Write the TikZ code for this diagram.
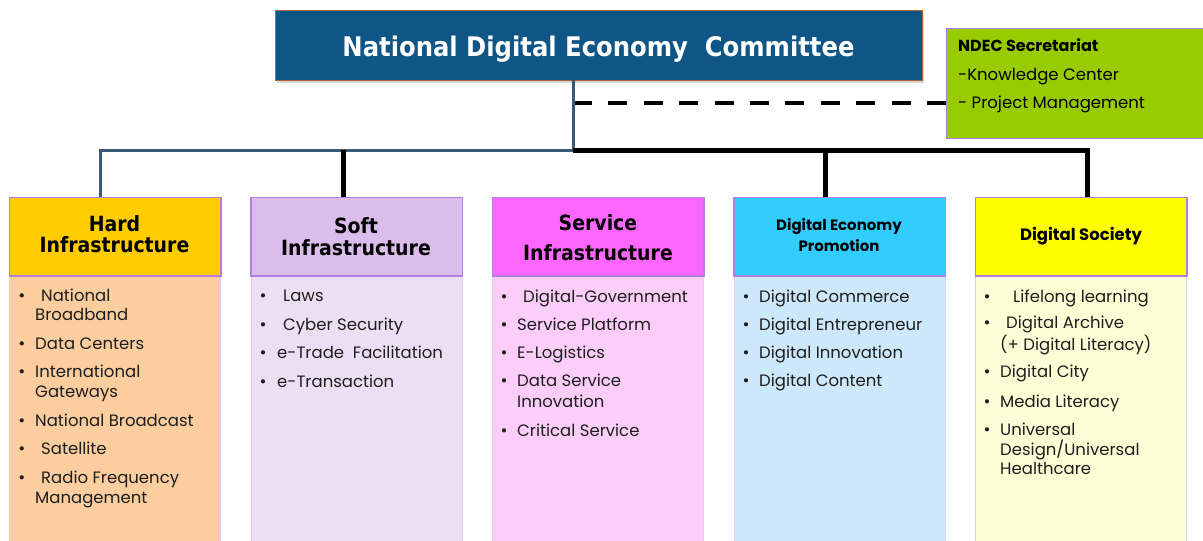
\documentclass[tikz,border=0pt]{standalone}
\usepackage{fontspec}
\setmainfont{Poppins}
\newfontfamily\tahoma{DejaVu Sans Condensed}
\usetikzlibrary{shadows}
\definecolor{mainfill}{HTML}{0F5585}
\definecolor{mainedge}{HTML}{B0643A}
\definecolor{slate}{HTML}{3B5876}
\definecolor{secfill}{HTML}{99CC00}
\definecolor{hdredge}{HTML}{B07FE0}
\definecolor{bodyedge}{HTML}{E2CDEE}
\definecolor{hardh}{HTML}{FFCC00}
\definecolor{hardb}{HTML}{FBCD9F}
\definecolor{softh}{HTML}{DBBDEB}
\definecolor{softb}{HTML}{ECDFF3}
\definecolor{servh}{HTML}{FF66FF}
\definecolor{servb}{HTML}{FCCDF9}
\definecolor{deph}{HTML}{33CCFF}
\definecolor{depb}{HTML}{CCE8FA}
\definecolor{soch}{HTML}{FFFF00}
\definecolor{socb}{HTML}{FFFDD5}
\definecolor{txt}{HTML}{1E1E1E}
\newcommand\bitem[5]{%
  \node[bul] (#1b) at (#2,#4) {•};
  \node[itm] (#1) at (#3,#4) {#5};}
\begin{document}
\begin{tikzpicture}[x=1pt,y=-1pt,
  hdrbox/.style={draw=hdredge, line width=1pt, minimum width=211pt, minimum height=78pt, inner sep=0pt, anchor=north west},
  bodybox/.style={draw=bodyedge, line width=1pt, minimum width=211pt, minimum height=270pt, inner sep=0pt, anchor=north},
  hdrtxt/.style={align=center, inner sep=0pt, text=black, font=\tahoma\bfseries\fontsize{21}{21}\selectfont},
  hdrtxt2/.style={align=center, inner sep=0pt, text=black, font=\bfseries\fontsize{15}{21}\selectfont},
  itm/.style={anchor=base west, inner sep=0pt, text=txt, font=\fontsize{16.5}{20}\selectfont},
  bul/.style={anchor=base, inner sep=0pt, text=txt, font=\fontsize{17}{20}\selectfont},
  sectxt/.style={anchor=base west, inner sep=0pt, text=black, font=\fontsize{16.5}{20}\selectfont},
  slateline/.style={draw=slate, line width=3pt},
  blackline/.style={draw=black, line width=5pt},
  dashline/.style={draw=black, line width=4pt, dash pattern=on 19pt off 16.4pt}
]
\useasboundingbox (0,0) rectangle (1203,541);

% top committee
\node[fill=mainfill, draw=mainedge, line width=0.8pt, minimum width=647pt, minimum height=70pt,
  text height=28.5pt, text depth=6.5pt,
  drop shadow={shadow xshift=2pt, shadow yshift=-3pt, opacity=0.35},
  text=white, font=\tahoma\bfseries\fontsize{27}{30}\selectfont] (ndc) at (598.5,45) {National Digital Economy\ \ Committee};

% secretariat
\node[fill=secfill, draw=hdredge, line width=1pt, minimum width=270pt, minimum height=110pt, anchor=north west, inner sep=0pt] (sec) at (945.5,28) {};
\node[sectxt, font=\bfseries\fontsize{16}{20}\selectfont] (sec1) at (958,51) {NDEC Secretariat};
\node[sectxt] (sec2) at (958,80) {-Knowledge Center};
\node[sectxt] (sec3) at (958,108) {- Project Management};

% columns: headers
\node[hdrbox, fill=hardh] (hardH) at (9,197) {};
\node[hdrbox, fill=softh] (softH) at (250.5,197) {};
\node[hdrbox, fill=servh] (servH) at (492,197) {};
\node[hdrbox, fill=deph]  (depH)  at (733.5,197) {};
\node[hdrbox, fill=soch]  (socH)  at (975,197) {};
% bodies
\node[bodybox, fill=hardb] (hardB) at (hardH.south) {};
\node[bodybox, fill=softb] (softB) at (softH.south) {};
\node[bodybox, fill=servb] (servB) at (servH.south) {};
\node[bodybox, fill=depb]  (depB)  at (depH.south) {};
\node[bodybox, fill=socb]  (socB)  at (socH.south) {};
% redraw header borders on top
\draw[draw=hdredge, line width=1pt] (hardH.north west) rectangle (hardH.south east);
\draw[draw=hdredge, line width=1pt] (softH.north west) rectangle (softH.south east);
\draw[draw=hdredge, line width=1pt] (servH.north west) rectangle (servH.south east);
\draw[draw=hdredge, line width=1pt] (depH.north west) rectangle (depH.south east);
\draw[draw=hdredge, line width=1pt] (socH.north west) rectangle (socH.south east);

% header texts
\node[hdrtxt] (hardT) at (114.5,234) {Hard\\Infrastructure};
\node[hdrtxt, font=\tahoma\bfseries\fontsize{21}{22}\selectfont] (softT) at (356,237) {Soft\\Infrastructure};
\node[hdrtxt, font=\tahoma\bfseries\fontsize{21}{30}\selectfont] (servT) at (598,238) {Service\\Infrastructure};
\node[hdrtxt2] (depT) at (839,235) {Digital Economy\\Promotion};
\node[hdrtxt2, font=\bfseries\fontsize{16.5}{21}\selectfont] (socT) at (1081,236) {Digital Society};

% connectors
\coordinate (jn) at (573,150);
\coordinate (hj) at (100,150);
\coordinate (softj) at (343,150);
\coordinate (depj) at (825,150);
\coordinate (socj) at (1087,150);
\coordinate (dj) at (573,103);
\draw[dashline] (dj) -- (dj -| sec.west);
\draw[slateline] (ndc.south -| jn) -- (jn) -- (hj) -- (hj |- hardH.north);
\draw[blackline] (jn) -- (socj) -- (socj |- socH.north);
\draw[blackline] (softj) -- (softj |- softH.north);
\draw[blackline] (depj) -- (depj |- depH.north);

% hard items
\bitem{h1}{22}{41}{301}{National}
\node[itm] (h1c) at (35,320) {Broadband};
\bitem{h2}{22}{35}{349}{Data Centers}
\bitem{h3}{22}{35}{377}{International}
\node[itm] (h3c) at (35,397) {Gateways};
\bitem{h4}{22}{35}{426}{National Broadcast}
\bitem{h5}{22}{41}{454}{Satellite}
\bitem{h6}{22}{41}{483}{Radio Frequency}
\node[itm] (h6c) at (35,503) {Management};

% soft items
\bitem{s1}{263}{283}{301}{Laws}
\bitem{s2}{263}{283}{330}{Cyber Security}
\bitem{s3}{263}{277}{358}{e-Trade\ \ Facilitation}
\bitem{s4}{263}{277}{387}{e-Transaction}

% service items
\bitem{v1}{504}{523}{302}{Digital-Government}
\bitem{v2}{504}{517}{330}{Service Platform}
\bitem{v3}{504}{517}{358}{E-Logistics}
\bitem{v4}{504}{517}{386}{Data Service}
\node[itm] (v4c) at (517,407) {Innovation};
\bitem{v5}{504}{517}{436}{Critical Service}

% promotion items
\bitem{d1}{746}{759}{302}{Digital Commerce}
\bitem{d2}{746}{759}{330}{Digital Entrepreneur}
\bitem{d3}{746}{759}{358}{Digital Innovation}
\bitem{d4}{746}{759}{386}{Digital Content}

% society items
\bitem{c1}{987}{1013}{302}{Lifelong learning}
\bitem{c2}{987}{1006}{328}{Digital Archive}
\node[itm] (c2c) at (1000,350) {(+ Digital Literacy)};
\bitem{c3}{987}{1000}{377}{Digital City}
\bitem{c4}{987}{1000}{407}{Media Literacy}
\bitem{c5}{987}{1000}{435}{Universal}
\node[itm] (c5c) at (1000,455) {Design/Universal};
\node[itm] (c5d) at (1000,474) {Healthcare};
\end{tikzpicture}
\end{document}
